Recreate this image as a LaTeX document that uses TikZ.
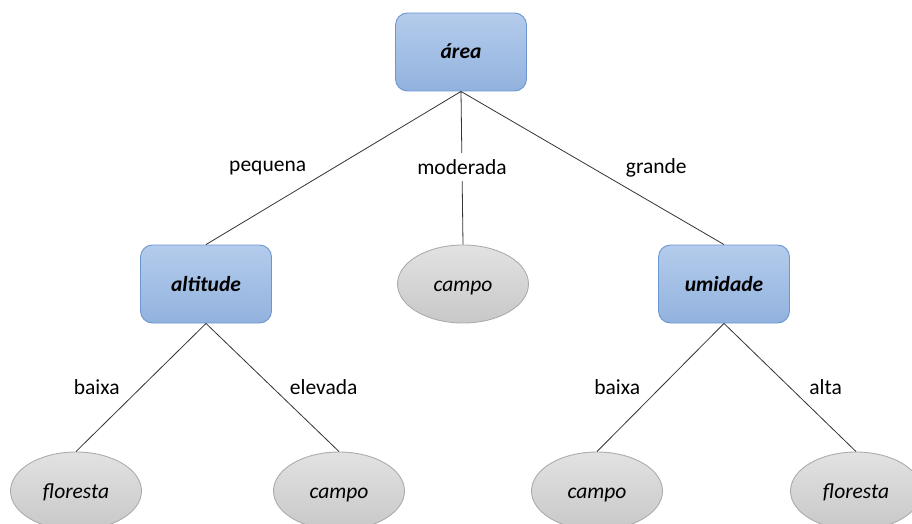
\documentclass[tikz,border=0pt]{standalone}
\usepackage{fontspec}
\setmainfont{Carlito}
\usepackage{tikz}
\usetikzlibrary{shapes.geometric}

\newcommand{\treefont}{\fontsize{21.5}{26}\selectfont}

\definecolor{boxtop}{RGB}{180,204,236}
\definecolor{boxbot}{RGB}{146,178,222}
\definecolor{boxline}{RGB}{108,150,208}
\definecolor{leaftop}{RGB}{226,226,226}
\definecolor{leafbot}{RGB}{200,200,200}
\definecolor{leafline}{RGB}{172,172,172}

\tikzset{
	splitbox/.style={rectangle, rounded corners=12pt, draw=boxline, line width=0.9pt,
		top color=boxtop, bottom color=boxbot, text height=17pt, text depth=3pt,
		minimum width=131pt, minimum height=78pt, font=\treefont\bfseries\itshape},
	leafnode/.style={ellipse, draw=leafline, line width=0.9pt,
		top color=leaftop, bottom color=leafbot, text height=17pt, text depth=3pt,
		minimum width=131pt, minimum height=78pt, font=\treefont\itshape},
	branch/.style={inner sep=0pt, font=\treefont}
}

\begin{document}
\begin{tikzpicture}[x=1pt, y=-1pt, line width=0.8pt, draw={black!80}]
	\useasboundingbox (0,0) rectangle (912,524);
	\node (area) at (461,52) [splitbox] {área};
		\node (altitude) at (206,284) [splitbox] {altitude};
			\node (floresta1) at (76,491) [leafnode] {floresta};
			\node (campo1) at (339,491) [leafnode] {campo};
		\node (campo2) at (463,284) [leafnode] {campo};
		\node (umidade) at (724,284) [splitbox] {umidade};
			\node (campo3) at (597,491) [leafnode] {campo};
			\node (floresta2) at (856,491) [leafnode] {floresta};
	\draw (area.south) to node [branch, left=27pt] {pequena} (altitude.north)
		  (area.south) to node [branch, fill=white, inner ysep=6pt, inner xsep=3pt, yshift=1pt] {moderada} (campo2.north)
		  (area.south) to node [branch, right=33pt] {grande} (umidade.north);
	\draw (altitude.south) to node [branch, left=21pt] {baixa} (floresta1.north)
		  (altitude.south) to node [branch, right=17pt] {elevada} (campo1.north);
	\draw (umidade.south) to node [branch, left=20pt] {baixa} (campo3.north)
		  (umidade.south) to node [branch, right=19pt] {alta} (floresta2.north);
\end{tikzpicture}
\end{document}
